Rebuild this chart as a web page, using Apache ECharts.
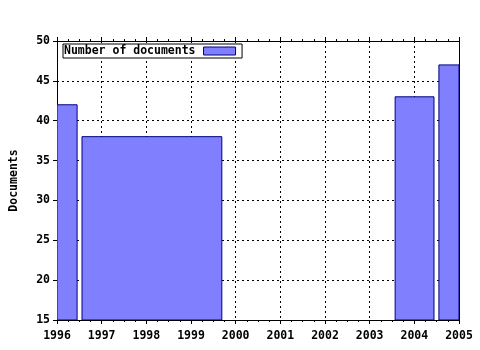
<!DOCTYPE html>
<html>
<head>
<meta charset="utf-8">
<script src="https://cdn.jsdelivr.net/npm/echarts@6/dist/echarts.min.js"></script>
<style>html,body{margin:0;padding:0;background:#fff;}#c{width:480px;height:350px;}</style>
</head>
<body>
<div id="c"></div>
<script>
// Bar spans (start year, end year) and values
var barStarts = [1995.55, 1996.56, 2003.57, 2004.55];
var barEnds = [1996.45, 1999.69, 2004.44, 2005.45];
var barValues = [42, 38, 43, 47];
var seriesName = 'Number of documents';
var yName = 'Documents';

var data = barValues.map(function (v, i) { return [barStarts[i], barEnds[i], v]; });
var font = 'DejaVu Sans Mono';
var fs = 11.5;
var chart = echarts.init(document.getElementById('c'));
chart.setOption({
  animation: false,
  backgroundColor: '#fff',
  grid: { left: 57, right: 21, top: 41, bottom: 30, containLabel: false, outerBoundsMode: 'none' },
  legend: {
    show: true, left: 63, top: 44, orient: 'horizontal',
    data: [{ name: seriesName, icon: 'rect' }],
    align: 'right', itemWidth: 32, itemHeight: 8, itemGap: 0,
    borderColor: '#000', borderWidth: 1, borderRadius: 0, padding: [1, 6, 1, 1],
    backgroundColor: '#fff',
    textStyle: { fontFamily: font, fontWeight: 'bold', fontSize: fs, color: '#000', padding: [0, 3, 0, 0] },
    itemStyle: { color: '#8080ff', borderColor: '#000080', borderWidth: 1 }
  },
  xAxis: [{
    type: 'value', min: 1996, max: 2005, interval: 1, position: 'bottom',
    axisLine: { show: true, onZero: false, lineStyle: { color: '#000', width: 1 } },
    axisTick: { show: true, length: 4, inside: false, lineStyle: { color: '#000' } },
    minorTick: { show: true, splitNumber: 4, length: 2, lineStyle: { color: '#000' } },
    axisLabel: { fontFamily: font, fontWeight: 'bold', fontSize: fs, color: '#000', margin: 10, formatter: function (v) { return String(v); } },
    splitLine: { show: true, lineStyle: { color: '#000', type: [2, 3], width: 1 } }
  }, {
    type: 'value', min: 1996, max: 2005, interval: 1, position: 'top',
    axisLine: { show: true, onZero: false, lineStyle: { color: '#000', width: 1 } },
    axisTick: { show: true, length: 4, inside: false, lineStyle: { color: '#000' } },
    minorTick: { show: true, splitNumber: 4, length: 2, lineStyle: { color: '#000' } },
    axisLabel: { show: false }, splitLine: { show: false }
  }],
  yAxis: [{
    type: 'value', min: 15, max: 50, interval: 5, position: 'left',
    name: yName, nameLocation: 'middle', nameGap: 37,
    nameTextStyle: { fontFamily: font, fontWeight: 'bold', fontSize: fs, color: '#000' },
    axisLine: { show: true, onZero: false, lineStyle: { color: '#000', width: 1 } },
    axisTick: { show: true, length: 4, lineStyle: { color: '#000' } },
    axisLabel: { fontFamily: font, fontWeight: 'bold', fontSize: fs, color: '#000', margin: 7 },
    splitLine: { show: true, lineStyle: { color: '#000', type: [2, 3], width: 1 } }
  }, {
    type: 'value', min: 15, max: 50, interval: 5, position: 'right',
    axisLine: { show: true, onZero: false, lineStyle: { color: '#000', width: 1 } },
    axisTick: { show: false }, axisLabel: { show: false }, splitLine: { show: false }
  }],
  series: [{
    type: 'custom', name: seriesName, clip: true, xAxisIndex: 0, yAxisIndex: 0,
    encode: { x: [0, 1], y: 2 },
    itemStyle: { color: '#8080ff', borderColor: '#000080', borderWidth: 1 },
    renderItem: function (params, api) {
      var p0 = api.coord([api.value(0), api.value(2)]);
      var p1 = api.coord([api.value(1), 15]);
      var r = echarts.graphic.clipRectByRect({ x: p0[0], y: p0[1], width: p1[0] - p0[0], height: p1[1] - p0[1] }, params.coordSys);
      if (!r) return null;
      return { type: 'rect', shape: r, style: api.style() };
    },
    data: data
  }]
});
</script>
</body>
</html>
